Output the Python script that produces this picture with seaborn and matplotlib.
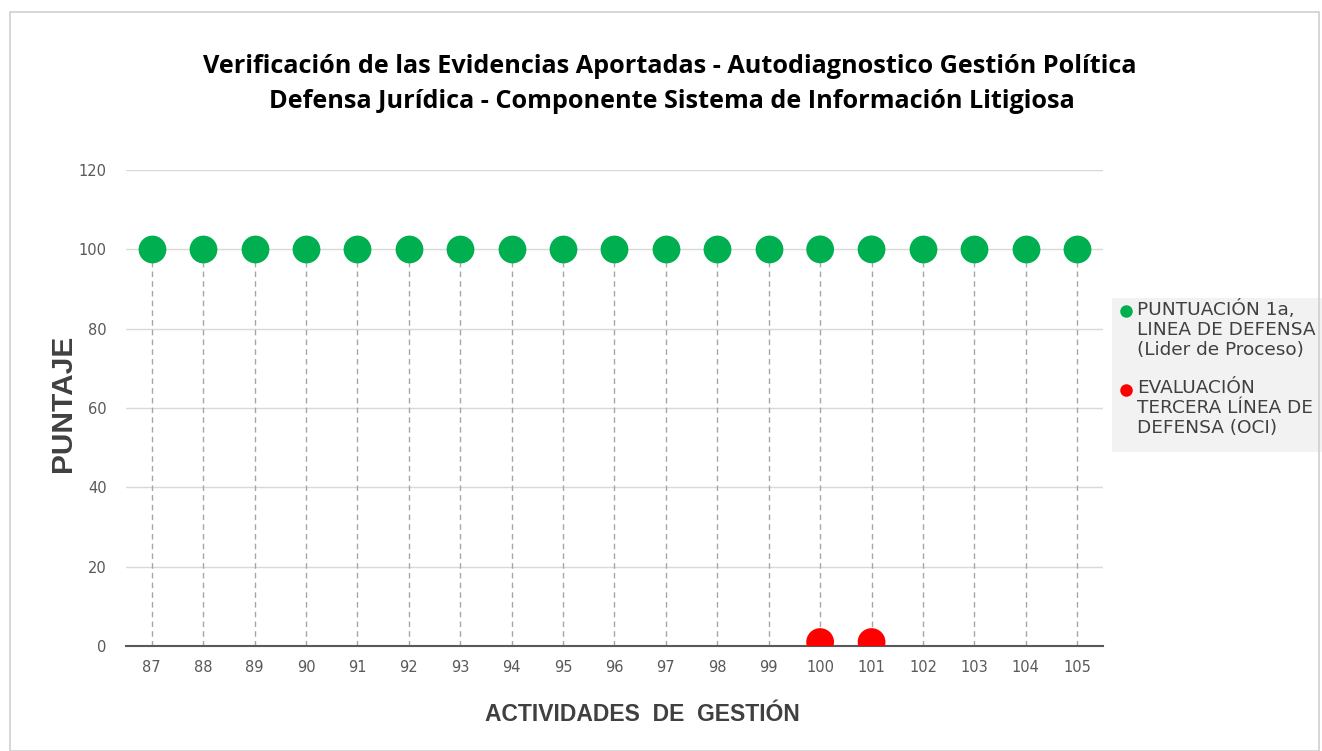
import pandas as pd
import matplotlib.pyplot as plt
import seaborn as sns
from matplotlib.lines import Line2D
from matplotlib.patches import Rectangle

# Data
actividades = [str(n) for n in range(87, 106)]
puntuacion_lider = [100] * 19
evaluacion_oci = [None] * 13 + [1, 1] + [None] * 4

serie_lider = "PUNTUACIÓN 1a,\nLINEA DE DEFENSA\n(Lider de Proceso)"
serie_oci = "EVALUACIÓN\nTERCERA LÍNEA DE\nDEFENSA (OCI)"
colores = {serie_lider: '#00b050', serie_oci: '#ff0000'}

df = pd.concat([
    pd.DataFrame({"Actividad": actividades, "Puntaje": puntuacion_lider, "Serie": serie_lider}),
    pd.DataFrame({"Actividad": actividades, "Puntaje": evaluacion_oci, "Serie": serie_oci}),
]).dropna()

sns.set_style("white")
plt.rcParams['font.family'] = ['DejaVu Sans']

fig = plt.figure(figsize=(13.22, 7.51), dpi=100)
ax = fig.add_axes([0.0953, 0.1398, 0.7390, 0.6338])

# outer chart border
fig.patches.append(Rectangle((0.0076, 0.0), 0.99, 0.984, transform=fig.transFigure,
                             fill=False, edgecolor='#d0d0d0', linewidth=1.2))

# drop lines
ax.vlines(range(len(actividades)), 0, puntuacion_lider, colors='#a6a6a6',
          linestyles=(0, (4, 3)), linewidth=1.0, zorder=1)

sns.stripplot(data=df, x="Actividad", y="Puntaje", hue="Serie", order=actividades,
              palette=colores, jitter=False, dodge=False, size=20, linewidth=0,
              ax=ax, zorder=3, legend=False)

ax.set_ylim(0, 120)
ax.set_xlim(-0.5, len(actividades) - 0.5)
ax.set_yticks(range(0, 121, 20))
ax.yaxis.grid(True, color='#d9d9d9', linewidth=1.0)
ax.set_axisbelow(True)
for s in ['top', 'right', 'left']:
    ax.spines[s].set_visible(False)
ax.spines['bottom'].set_color('#595959')
ax.spines['bottom'].set_linewidth(1.5)
ax.spines['bottom'].set_zorder(2)
ax.tick_params(axis='both', length=0, labelsize=10.5, colors='#595959', pad=10)
ax.tick_params(axis='y', pad=14)

ax.set_xlabel("ACTIVIDADES  DE  GESTIÓN", fontsize=16.5, fontweight='bold',
              color='#404040', family='Liberation Sans')
ax.xaxis.set_label_coords(0.529, -0.12)
ax.set_ylabel("PUNTAJE", fontsize=21.5, fontweight='bold', color='#404040',
              family='Liberation Sans')
ax.yaxis.set_label_coords(-0.05, 0.51)

fig.text(0.5065, 0.911, "Verificación de las Evidencias Aportadas - Autodiagnostico Gestión Política",
         ha='center', va='center', fontsize=18.2, fontweight='bold', family='Open Sans', color='black')
fig.text(0.508, 0.865, "Defensa Jurídica - Componente Sistema de Información Litigiosa",
         ha='center', va='center', fontsize=18.2, fontweight='bold', family='Open Sans', color='black')

# legend box on the right
fig.patches.append(Rectangle((1112 / 1322, 1 - 452 / 751), 210 / 1322, 154 / 751,
                             transform=fig.transFigure, facecolor='#f2f2f2',
                             edgecolor='none', zorder=0))
for serie, y_px in [(serie_lider, 311), (serie_oci, 390)]:
    fig.add_artist(Line2D([1126 / 1322], [1 - y_px / 751], marker='o', markersize=8,
                          linestyle='', color=colores[serie], transform=fig.transFigure))
    fig.text(1137 / 1322, 1 - (y_px - 11) / 751, serie, ha='left', va='top',
             fontsize=13.3, color='#404040', linespacing=1.13)

fig.savefig("out.png", dpi=100)
